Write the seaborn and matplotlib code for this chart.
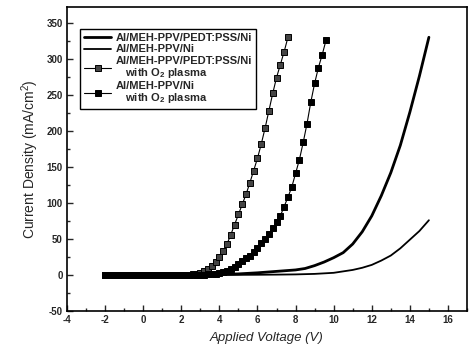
import matplotlib
matplotlib.use("Agg")
import matplotlib.pyplot as plt
import seaborn as sns
from matplotlib.ticker import MultipleLocator

# J-V data (V in volts, J in mA/cm^2)
v_pedt = [-2, -1, 0, 1, 2, 3, 4, 5, 6, 7, 7.5, 8, 8.5, 9, 9.5, 10, 10.5,
          11, 11.5, 12, 12.5, 13, 13.5, 14, 14.5, 15]
j_pedt = [0, 0, 0, 0, 0.2, 0.5, 0.8, 1.5, 3, 5, 6, 7, 9, 13, 18, 24, 31,
          43, 60, 82, 110, 142, 180, 226, 276, 330]

v_ni = [-2, -1, 0, 1, 2, 3, 4, 5, 6, 7, 8, 9, 10, 10.5, 11, 11.5, 12,
        12.5, 13, 13.5, 14, 14.5, 15]
j_ni = [0, 0, 0, 0, 0, 0, 0, 0.2, 0.3, 0.5, 0.8, 1.5, 3, 5, 7, 10, 14,
        20, 27, 37, 49, 61, 76]

v_pedt_o2 = [-2.0, -1.8, -1.6, -1.4, -1.2, -1.0, -0.8, -0.6, -0.4, -0.2,
             0.0, 0.2, 0.4, 0.6, 0.8, 1.0, 1.2, 1.4, 1.6, 1.8, 2.0, 2.2,
             2.4, 2.6, 2.8, 3.0, 3.2, 3.4, 3.6, 3.8, 4.0, 4.2, 4.4, 4.6,
             4.8, 5.0, 5.2, 5.4, 5.6, 5.8, 6.0, 6.2, 6.4, 6.6, 6.8, 7.0,
             7.2, 7.4, 7.6]
j_pedt_o2 = [0, 0, 0, 0, 0, 0, 0, 0, 0, 0,
             0, 0, 0, 0, 0, 0, 0, 0.1, 0.1, 0.2, 0.3, 0.4,
             0.6, 1, 2, 3, 5, 8, 12, 18, 25, 33, 43, 56,
             70, 84, 98, 112, 128, 145, 162, 182, 204, 228, 252, 274,
             292, 310, 330]

v_ni_o2 = [-2.0, -1.8, -1.6, -1.4, -1.2, -1.0, -0.8, -0.6, -0.4, -0.2,
           0.0, 0.2, 0.4, 0.6, 0.8, 1.0, 1.2, 1.4, 1.6, 1.8, 2.0, 2.2,
           2.4, 2.6, 2.8, 3.0, 3.2, 3.4, 3.6, 3.8, 4.0, 4.2, 4.4, 4.6,
           4.8, 5.0, 5.2, 5.4, 5.6, 5.8, 6.0, 6.2, 6.4, 6.6, 6.8, 7.0,
           7.2, 7.4, 7.6, 7.8, 8.0, 8.2, 8.4, 8.6, 8.8, 9.0, 9.2, 9.4, 9.6]
j_ni_o2 = [0, 0, 0, 0, 0, 0, 0, 0, 0, 0,
           0, 0, 0, 0, 0, 0, 0, 0, 0, 0, 0, 0.1,
           0.1, 0.2, 0.3, 0.4, 0.6, 0.8, 1.2, 1.8, 2.6, 4, 6, 8,
           11, 15, 19, 23, 27, 32, 37, 44, 50, 57, 65, 73,
           82, 95, 108, 122, 141, 160, 184, 210, 240, 266, 288, 306, 326]

labels = ["Al/MEH-PPV/PEDT:PSS/Ni",
          "Al/MEH-PPV/Ni",
          "Al/MEH-PPV/PEDT:PSS/Ni\n   with O$_\\mathbf{2}$ plasma",
          "Al/MEH-PPV/Ni\n   with O$_\\mathbf{2}$ plasma"]

sns.set_style("ticks")
plt.rcParams["font.family"] = ["Liberation Sans", "DejaVu Sans"]
plt.rcParams["mathtext.fontset"] = "custom"
plt.rcParams["mathtext.rm"] = "Liberation Sans"
plt.rcParams["mathtext.bf"] = "Liberation Sans:bold"
plt.rcParams["axes.unicode_minus"] = False

fig = plt.figure(figsize=(4.7, 3.52), dpi=100)
ax = fig.add_axes([0.1426, 0.1165, 0.851, 0.8636])

sns.lineplot(x=v_pedt, y=j_pedt, ax=ax, color="black", lw=2.0,
             label=labels[0])
sns.lineplot(x=v_ni, y=j_ni, ax=ax, color="black", lw=1.3,
             label=labels[1])
sns.lineplot(x=v_pedt_o2, y=j_pedt_o2, ax=ax, color="black", lw=0.8,
             marker="s", markersize=4, markerfacecolor="#444444",
             markeredgecolor="black", markeredgewidth=0.7, label=labels[2])
sns.lineplot(x=v_ni_o2, y=j_ni_o2, ax=ax, color="black", lw=0.8,
             marker="s", markersize=4, markerfacecolor="black",
             markeredgecolor="black", markeredgewidth=0.7, label=labels[3])

ax.set_xlim(-4, 17)
ax.set_ylim(-50, 372)
ax.xaxis.set_major_locator(MultipleLocator(2))
ax.xaxis.set_minor_locator(MultipleLocator(1))
ax.yaxis.set_major_locator(MultipleLocator(50))
ax.yaxis.set_minor_locator(MultipleLocator(25))
ax.tick_params(which="both", direction="in", top=False, right=False,
               width=1.0, labelsize=7, pad=3)
ax.tick_params(which="major", length=4)
ax.tick_params(which="minor", length=2)
for lbl in ax.get_xticklabels() + ax.get_yticklabels():
    lbl.set_fontweight("bold")
for sp in ax.spines.values():
    sp.set_linewidth(1.2)
    sp.set_color("black")

ax.set_xlabel("Applied Voltage (V)", fontsize=9.5, style="italic", labelpad=5)
ax.set_ylabel("Current Density (mA/cm$^2$)", fontsize=10, labelpad=4)

leg = ax.legend(loc="upper left", bbox_to_anchor=(0.0325, 0.928),
                borderaxespad=0, frameon=True, fancybox=False,
                edgecolor="black", framealpha=1,
                prop={"weight": "bold", "size": 8},
                handlelength=2.4, labelspacing=0.1, borderpad=0.4,
                handletextpad=0.4)
for t in leg.get_texts():
    t.set_linespacing(1.0)
leg.get_frame().set_linewidth(1.0)

fig.savefig("out.png", dpi=100)
